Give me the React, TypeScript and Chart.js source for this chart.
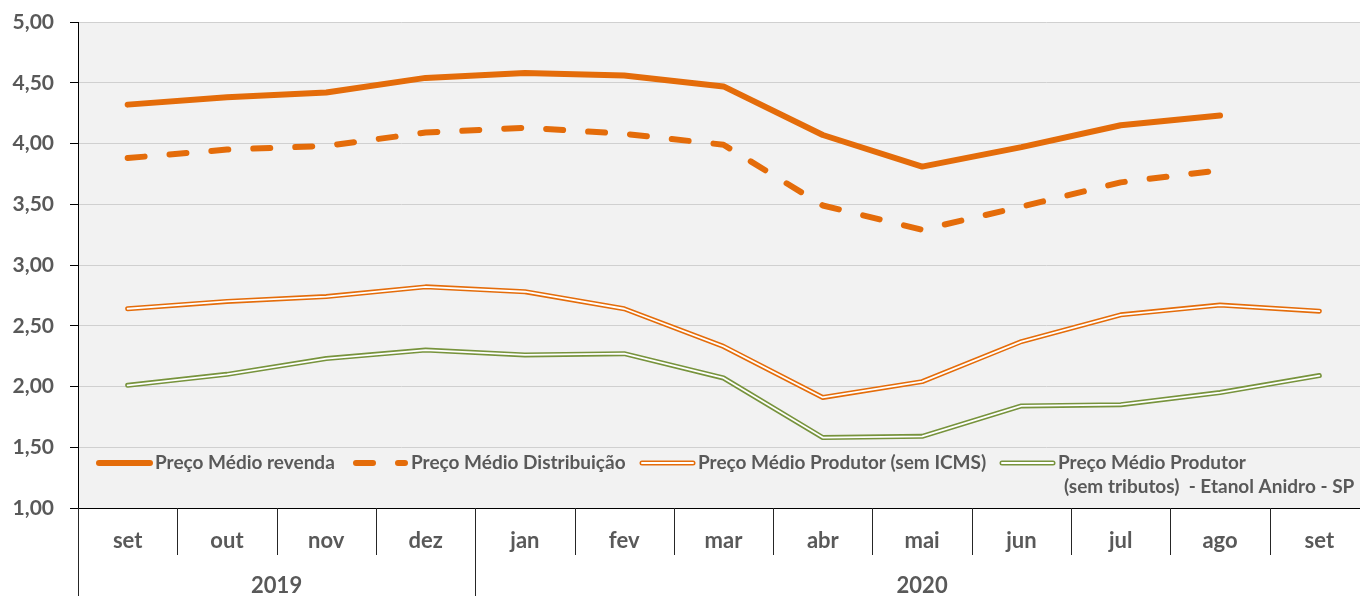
import React, { useEffect, useRef } from 'react';
import { Chart, registerables } from 'chart.js';
Chart.register(...registerables);

const months = ['set', 'out', 'nov', 'dez', 'jan', 'fev', 'mar', 'abr', 'mai', 'jun', 'jul', 'ago', 'set'];
const yearLabels = ['2019', '2020'];
const yearStartIndex = [0, 4];
const revenda = [4.32, 4.38, 4.42, 4.54, 4.58, 4.56, 4.47, 4.07, 3.81, 3.97, 4.15, 4.23, null];
const distribuicao = [3.88, 3.95, 3.98, 4.09, 4.13, 4.08, 3.99, 3.49, 3.29, 3.48, 3.68, 3.78, null];
const produtorSemICMS = [2.64, 2.70, 2.74, 2.82, 2.78, 2.64, 2.33, 1.91, 2.04, 2.37, 2.59, 2.67, 2.62];
const produtorSemTributos = [2.01, 2.10, 2.23, 2.30, 2.26, 2.27, 2.07, 1.58, 1.59, 1.84, 1.85, 1.95, 2.09];
const legendLabels = [
  'Preço Médio revenda',
  'Preço Médio Distribuição',
  'Preço Médio Produtor (sem ICMS)',
  'Preço Médio Produtor',
];
const legendSecondLine = '(sem tributos)  - Etanol Anidro - SP';
const yMin = 1;
const yMax = 5;
const yStep = 0.5;

const ORANGE = '#E46C0A';
const GREEN = '#77933C';
const TEXT = '#595959';
const FONT = 'Lato, "Open Sans", sans-serif';

const decorPlugin = {
  id: 'decor',
  beforeDraw(chart: any) {
    const { ctx, chartArea } = chart;
    ctx.save();
    ctx.fillStyle = '#F2F2F2';
    ctx.fillRect(chartArea.left, chartArea.top, chartArea.right - chartArea.left, chartArea.bottom - chartArea.top);
    ctx.restore();
  },
  afterDraw(chart: any) {
    const { ctx, chartArea } = chart;
    const xs = chart.scales.x;
    const H = chart.height;
    const n = months.length;
    const step = xs.getPixelForValue(1) - xs.getPixelForValue(0);
    const bounds: number[] = [];
    for (let i = 0; i <= n; i++) {
      let b;
      if (i === 0) b = xs.getPixelForValue(0) - step / 2;
      else if (i === n) b = xs.getPixelForValue(n - 1) + step / 2;
      else b = (xs.getPixelForValue(i - 1) + xs.getPixelForValue(i)) / 2;
      bounds.push(b);
    }
    ctx.save();
    ctx.strokeStyle = '#262626';
    ctx.lineWidth = 1;
    for (let i = 0; i <= n; i++) {
      const full = yearStartIndex.includes(i) || i === n;
      const x = Math.round(bounds[i]) + 0.5;
      ctx.beginPath();
      ctx.moveTo(x, chartArea.bottom);
      ctx.lineTo(x, full ? H : chartArea.bottom + 47);
      ctx.stroke();
    }
    // year labels
    ctx.fillStyle = TEXT;
    ctx.font = `bold 22px ${FONT}`;
    ctx.textAlign = 'center';
    ctx.textBaseline = 'middle';
    for (let k = 0; k < yearLabels.length; k++) {
      const s = yearStartIndex[k];
      const e = k + 1 < yearStartIndex.length ? yearStartIndex[k + 1] : n;
      ctx.fillText(yearLabels[k], (bounds[s] + bounds[e]) / 2, chartArea.bottom + 78);
    }
    // legend
    const ly = chartArea.bottom - 45;
    const starts = [chartArea.left + 19, chartArea.left + 275, chartArea.left + 562, chartArea.left + 922];
    const sw = 55;
    const drawSample = (i: number, x0: number) => {
      ctx.save();
      ctx.lineCap = 'round';
      if (i === 0) {
        ctx.strokeStyle = ORANGE; ctx.lineWidth = 6;
        ctx.beginPath(); ctx.moveTo(x0 + 2, ly); ctx.lineTo(x0 + sw - 2, ly); ctx.stroke();
      } else if (i === 1) {
        ctx.strokeStyle = ORANGE; ctx.lineWidth = 6; ctx.setLineDash([17, 25]);
        ctx.beginPath(); ctx.moveTo(x0 + 3, ly); ctx.lineTo(x0 + sw - 3, ly); ctx.stroke();
      } else {
        ctx.strokeStyle = i === 2 ? ORANGE : GREEN; ctx.lineWidth = 5;
        ctx.beginPath(); ctx.moveTo(x0 + 2, ly); ctx.lineTo(x0 + sw - 2, ly); ctx.stroke();
        ctx.strokeStyle = '#FFFFFF'; ctx.lineWidth = 2;
        ctx.beginPath(); ctx.moveTo(x0 + 2, ly); ctx.lineTo(x0 + sw - 2, ly); ctx.stroke();
      }
      ctx.restore();
    };
    ctx.font = `bold 19px ${FONT}`;
    ctx.textAlign = 'left';
    ctx.textBaseline = 'middle';
    ctx.fillStyle = TEXT;
    for (let i = 0; i < legendLabels.length; i++) {
      drawSample(i, starts[i]);
      ctx.fillText(legendLabels[i], starts[i] + sw + 3, ly);
    }
    ctx.fillText(legendSecondLine, starts[3] + sw + 9, ly + 24);
    ctx.restore();
  },
};

const common = { pointRadius: 0, borderCapStyle: 'round', borderJoinStyle: 'round', tension: 0 };

export default function App() {
  const ref = useRef<HTMLCanvasElement | null>(null);
  useEffect(() => {
    if (!ref.current) return;
    const chart = new Chart(ref.current, {
      type: 'line',
      data: {
        labels: months,
        datasets: [
          { ...common, label: legendLabels[0], data: revenda, borderColor: ORANGE, borderWidth: 6, order: 1 },
          { ...common, label: legendLabels[1], data: distribuicao, borderColor: ORANGE, borderWidth: 6, borderDash: [17, 25], order: 1 },
          { ...common, label: 'orange-outer', data: produtorSemICMS, borderColor: ORANGE, borderWidth: 5, order: 2 },
          { ...common, label: 'orange-inner', data: produtorSemICMS, borderColor: '#FFFFFF', borderWidth: 1.8, order: 0 },
          { ...common, label: 'green-outer', data: produtorSemTributos, borderColor: GREEN, borderWidth: 5, order: 2 },
          { ...common, label: 'green-inner', data: produtorSemTributos, borderColor: '#FFFFFF', borderWidth: 1.8, order: 0 },
        ] as any,
      },
      options: {
        responsive: false,
        animation: false,
        events: [],
        layout: { padding: { left: 0, top: 22, right: 11, bottom: 0 } },
        plugins: { legend: { display: false }, tooltip: { enabled: false } },
        scales: {
          x: {
            offset: true,
            grid: { display: false, drawTicks: false },
            border: { display: true, color: '#000000', width: 1 },
            ticks: { color: TEXT, font: { family: FONT, size: 22, weight: 'bold' }, padding: 20, autoSkip: false, maxRotation: 0 },
            afterFit(scale: any) { scale.height = 88; },
          },
          y: {
            min: yMin,
            max: yMax,
            ticks: {
              stepSize: yStep,
              color: TEXT,
              font: { family: FONT, size: 21, weight: 'bold' },
              padding: 16,
              callback: (v: any) => Number(v).toFixed(2).replace('.', ','),
            },
            grid: { color: '#D0D0D0', lineWidth: 1, borderDash: [1, 2] as any, tickLength: 8, tickColor: '#000000', tickBorderDash: [] as any },
            border: { display: true, color: '#000000', width: 1 },
            afterFit(scale: any) { scale.width = 78; scale.paddingTop = 0; scale.paddingBottom = 0; },
          } as any,
        },
      } as any,
      plugins: [decorPlugin],
    });
    return () => chart.destroy();
  }, []);
  return (
    <div style={{ position: 'fixed', left: 0, top: 0, width: 1360, height: 596, overflow: 'hidden', background: '#FFFFFF' }}>
      <canvas ref={ref} width={1380} height={596} style={{ display: 'block', width: 1380, height: 596 }} />
    </div>
  );
}
